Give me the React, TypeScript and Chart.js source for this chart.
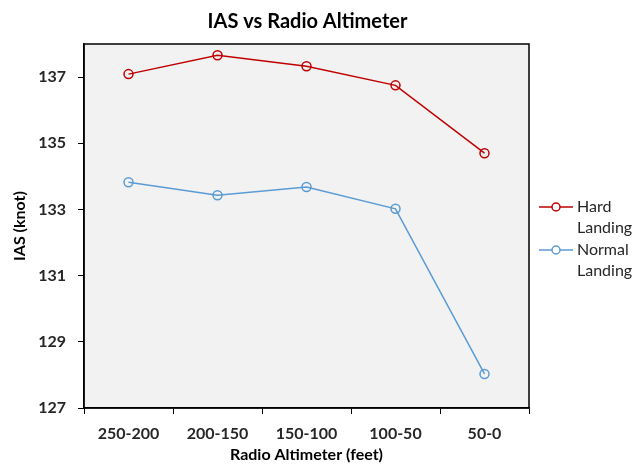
import React, { useEffect, useRef } from "react";
import { Chart, registerables } from "chart.js";

Chart.register(...registerables);

const categories = ["250-200", "200-150", "150-100", "100-50", "50-0"];
const hardLanding = [137.09, 137.66, 137.33, 136.75, 134.7];
const normalLanding = [133.82, 133.43, 133.68, 133.02, 128.03];
const seriesNames = [["Hard", "Landing"], ["Normal", "Landing"]];
const yTicks = [127, 129, 131, 133, 135, 137];
const chartTitle = "IAS vs Radio Altimeter";

const FONT = "Lato, 'Open Sans', 'DejaVu Sans', sans-serif";

const bgPlugin = {
  id: "plotBg",
  beforeDraw(chart: any) {
    const { ctx, chartArea } = chart;
    ctx.save();
    ctx.fillStyle = "#f2f2f2";
    ctx.fillRect(chartArea.left, chartArea.top, chartArea.right - chartArea.left, chartArea.bottom - chartArea.top);
    ctx.restore();
  },
  afterDatasetsDraw(chart: any) {
    const { ctx, chartArea } = chart;
    ctx.save();
    ctx.strokeStyle = "#000";
    ctx.lineWidth = 1.5;
    ctx.strokeRect(chartArea.left, chartArea.top, chartArea.right - chartArea.left, chartArea.bottom - chartArea.top);
    ctx.restore();
  },
};

const titlePlugin = {
  id: "centerTitle",
  afterDraw(chart: any) {
    const { ctx, chartArea } = chart;
    ctx.save();
    ctx.fillStyle = "#000";
    ctx.font = `bold 20px ${FONT}`;
    ctx.textAlign = "center";
    ctx.textBaseline = "middle";
    ctx.fillText(chartTitle, (chartArea.left + chartArea.right) / 2 + 1, 22);
    ctx.restore();
  },
};

const legendPlugin = {
  id: "wrapLegend",
  afterDraw(chart: any) {
    const { ctx } = chart;
    const x0 = chart.chartArea.right + 10;
    const startY = [207, 250];
    ctx.save();
    chart.data.datasets.forEach((ds: any, i: number) => {
      const y = startY[i];
      ctx.strokeStyle = ds.borderColor;
      ctx.lineWidth = 1.5;
      ctx.beginPath();
      ctx.moveTo(x0, y);
      ctx.lineTo(x0 + 34, y);
      ctx.stroke();
      ctx.beginPath();
      ctx.fillStyle = "#ffffff";
      ctx.arc(x0 + 17, y, 4, 0, Math.PI * 2);
      ctx.fill();
      ctx.stroke();
      ctx.fillStyle = "#262626";
      ctx.font = `16px ${FONT}`;
      ctx.textBaseline = "middle";
      ctx.textAlign = "left";
      seriesNames[i].forEach((t, j) => {
        ctx.fillText(t, x0 + 38, y + j * 21);
      });
    });
    ctx.restore();
  },
};

export default function App() {
  const ref = useRef<HTMLCanvasElement | null>(null);
  useEffect(() => {
    if (!ref.current) return;
    const chart = new Chart(ref.current, {
      type: "line",
      data: {
        labels: categories,
        datasets: [
          {
            label: seriesNames[0].join(" "),
            data: hardLanding,
            borderColor: "#c00000",
            backgroundColor: "#f2f2f2",
            borderWidth: 1.5,
            pointRadius: 4.5,
            pointBorderWidth: 1.5,
            pointBackgroundColor: "rgba(0,0,0,0)",
            tension: 0,
          },
          {
            label: seriesNames[1].join(" "),
            data: normalLanding,
            borderColor: "#5b9bd5",
            backgroundColor: "#f2f2f2",
            borderWidth: 1.5,
            pointRadius: 4.5,
            pointBorderWidth: 1.5,
            pointBackgroundColor: "rgba(0,0,0,0)",
            tension: 0,
          },
        ],
      },
      options: {
        animation: false,
        responsive: false,
        maintainAspectRatio: false,
        layout: { padding: { left: 0, right: 103, top: 44, bottom: 0 } },
        plugins: {
          legend: { display: false },
          tooltip: { enabled: false },
          title: { display: false },
        },
        scales: {
          x: {
            type: "category",
            offset: true,
            grid: {
              display: true,
              drawOnChartArea: false,
              drawTicks: true,
              tickLength: 6,
              offset: true,
              color: "#000",
            },
            border: { display: true, color: "#000", width: 1.5 },
            ticks: {
              color: "#262626",
              font: { family: FONT, size: 16, weight: "bold" },
              padding: 10,
              maxRotation: 0,
            },
            title: {
              display: true,
              text: "Radio Altimeter (feet)",
              color: "#000",
              font: { family: FONT, size: 16, weight: "bold" },
              padding: { top: 0, bottom: 0 },
            },
            afterFit(scale: any) {
              scale.height = 56;
            },
          },
          y: {
            type: "linear",
            min: 127,
            max: 138,
            afterBuildTicks(scale: any) {
              scale.ticks = yTicks.map((v) => ({ value: v }));
            },
            grid: {
              display: true,
              drawOnChartArea: false,
              drawTicks: true,
              tickLength: 6,
              color: "#000",
            },
            border: { display: true, color: "#000", width: 1.5 },
            ticks: {
              color: "#262626",
              font: { family: FONT, size: 16, weight: "bold" },
              padding: 12,
            },
            title: {
              display: true,
              text: "IAS (knot)",
              color: "#000",
              font: { family: FONT, size: 16, weight: "bold" },
              padding: { top: 10, bottom: 0 },
            },
            afterFit(scale: any) {
              scale.width = 84;
            },
          },
        },
      },
      plugins: [bgPlugin, titlePlugin, legendPlugin],
    } as any);
    return () => chart.destroy();
  }, []);
  return (
    <div style={{ position: "fixed", left: 0, top: 0, width: 632, height: 464, background: "#fff" }}>
      <canvas ref={ref} width={632} height={464} style={{ width: 632, height: 464 }} />
    </div>
  );
}
